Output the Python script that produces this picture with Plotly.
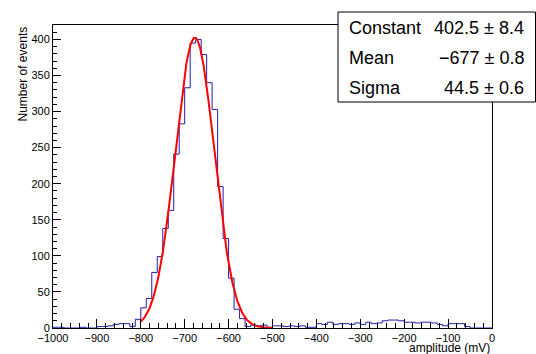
import numpy as np
import plotly.graph_objects as go

# ---- data ----
bin_start = -1000.0
bin_width = 12.5
counts = [
    1, 1, 0, 0, 0, 1, 0, 0, 2, 2,
    3, 5, 6, 6, 2, 12, 28, 41, 77, 99,
    138, 163, 241, 283, 333, 395, 400, 379, 340, 303,
    196, 124, 69, 26, 13, 2, 4, 3, 4, 1,
    3, 3, 2, 3, 2, 3, 1, 1, 6, 5,
    8, 5, 6, 6, 5, 7, 5, 8, 6, 7,
    10, 11, 11, 10, 8, 8, 7, 8, 8, 7,
    5, 3, 6, 6, 6, 2, 0, 0, 0, 0,
]
fit_constant = 402.5
fit_mean = -677.0
fit_sigma = 44.5
fit_range = [-800.0, -500.0]
stat_names = ["Constant", "Mean", "Sigma"]
stat_values = ["402.5 \u00b1 8.4", "\u2212677 \u00b1 0.8", "44.5 \u00b1 0.6"]
x_title = "amplitude (mV)"
y_title = "Number of events"

# ---- build ----
edges = bin_start + bin_width * np.arange(len(counts) + 1)
step_y = list(counts) + [counts[-1]]

xf = np.linspace(fit_range[0], fit_range[1], 400)
yf = fit_constant * np.exp(-0.5 * ((xf - fit_mean) / fit_sigma) ** 2)

FONT = "Liberation Sans, Arial, sans-serif"

fig = go.Figure()
fig.add_trace(go.Scatter(x=edges, y=step_y, mode="lines", line_shape="hv",
                         line=dict(color="#1f1fa8", width=1), hoverinfo="skip"))
fig.add_trace(go.Scatter(x=xf, y=yf, mode="lines",
                         line=dict(color="#ff0000", width=2), hoverinfo="skip"))

W, H = 536, 354
ml, mr, mt, mb = 53, 44, 25, 26
pw = W - ml - mr
ph = H - mt - mb

def px_x(p):
    return (p - ml) / pw

def px_y(p):
    return (H - mb - p) / ph

fig.update_layout(
    width=W, height=H,
    margin=dict(l=ml, r=mr, t=mt, b=mb, pad=0, autoexpand=False),
    paper_bgcolor="white", plot_bgcolor="white",
    showlegend=False,
    font=dict(family=FONT, size=11, color="black"),
    xaxis=dict(range=[-1000, 0], showgrid=False, zeroline=False, automargin=False,
               showline=True, mirror=True, linecolor="black", linewidth=1,
               ticks="inside", ticklen=9, tickwidth=1, tickcolor="black",
               tick0=-1000, dtick=100, ticklabelstandoff=0,
               minor=dict(ticks="inside", ticklen=5, dtick=20, tickcolor="black", showgrid=False),
               tickfont=dict(size=11, family=FONT)),
    yaxis=dict(range=[0, 420], showgrid=False, zeroline=False, automargin=False,
               showline=True, mirror=True, linecolor="black", linewidth=1,
               ticks="inside", ticklen=8, tickwidth=1, tickcolor="black",
               tick0=0, dtick=50,
               minor=dict(ticks="inside", ticklen=4, dtick=10, tickcolor="black", showgrid=False),
               tickfont=dict(size=11, family=FONT)),
)

# axis titles
fig.add_annotation(text=x_title, xref="paper", yref="paper", x=1, y=0,
                   xanchor="right", yanchor="top", yshift=-11, showarrow=False,
                   font=dict(size=12, family=FONT))
fig.add_annotation(text=y_title, xref="paper", yref="paper", x=px_x(22), y=1,
                   xanchor="center", yanchor="top", textangle=-90, showarrow=False,
                   font=dict(size=12, family=FONT))

# stats box
fig.add_shape(type="rect", xref="paper", yref="paper",
              x0=px_x(338), x1=px_x(535.5), y0=px_y(102), y1=px_y(12),
              fillcolor="white", line=dict(color="black", width=1), layer="above")
row_y = [28, 58, 88]
for name, val, ry in zip(stat_names, stat_values, row_y):
    fig.add_annotation(text=name, xref="paper", yref="paper", x=px_x(347), y=px_y(ry),
                       xanchor="left", yanchor="middle", showarrow=False,
                       font=dict(size=18, family=FONT))
    fig.add_annotation(text=val, xref="paper", yref="paper", x=px_x(526), y=px_y(ry),
                       xanchor="right", yanchor="middle", showarrow=False,
                       font=dict(size=18, family=FONT))

fig.write_html("out.html", config={"displayModeBar": False},
               post_script="document.body.style.margin='0';document.body.style.padding='0';")
